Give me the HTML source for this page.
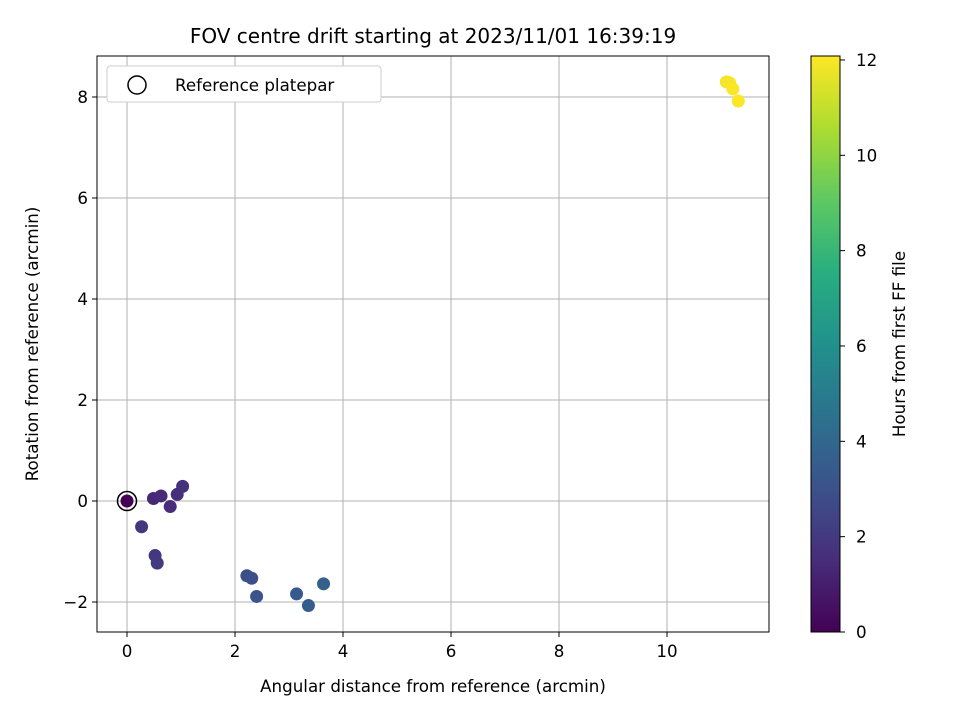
<!DOCTYPE html>
<html><head><meta charset="utf-8"><style>
body{margin:0;background:#fff}
svg text{font-family:"DejaVu Sans","Liberation Sans",sans-serif;fill:#000}
</style></head><body>
<svg id="chart" width="960" height="720" viewBox="0 0 960 720">
<defs>
<linearGradient id="vir" x1="0" y1="1" x2="0" y2="0">
<stop offset="0" stop-color="#440154"/><stop offset="0.125" stop-color="#472d7b"/><stop offset="0.25" stop-color="#3b528b"/><stop offset="0.375" stop-color="#2c728e"/><stop offset="0.5" stop-color="#21918c"/><stop offset="0.625" stop-color="#28ae80"/><stop offset="0.75" stop-color="#5ec962"/><stop offset="0.875" stop-color="#addc30"/><stop offset="1" stop-color="#fde725"/>
</linearGradient>
</defs>
<text x="433" y="43" font-size="20" text-anchor="middle">FOV centre drift starting at 2023/11/01 16:39:19</text>
<g id="grid"></g>
<g id="ticks"></g>
<g id="points"></g>
<rect x="97" y="56" width="672" height="576" fill="none" stroke="#000" stroke-width="1"/>
<text x="433" y="692" font-size="16.7" text-anchor="middle">Angular distance from reference (arcmin)</text>
<text transform="translate(38,344) rotate(-90)" font-size="16.7" text-anchor="middle">Rotation from reference (arcmin)</text>
<g>
<rect x="107" y="66" width="274" height="36" rx="3" fill="#fff" stroke="#ccc"/>
<circle cx="137" cy="85" r="9" fill="none" stroke="#000" stroke-width="1.5"/>
<text x="175" y="91" font-size="16.7">Reference platepar</text>
</g>
<rect x="811" y="56" width="29" height="576" fill="url(#vir)" stroke="#000" stroke-width="1"/>
<g id="cbticks"></g>
<text transform="translate(905,344) rotate(-90)" font-size="16.7" text-anchor="middle">Hours from first FF file</text>
</svg>
<script>
const xVals=[0.49,0.63,0.93,1.03,0.80,0.27,0.52,0.56,2.22,2.31,2.40,3.14,3.36,3.64,11.10,11.16,11.22,11.32,0];
const yVals=[0.05,0.10,0.13,0.29,-0.11,-0.51,-1.08,-1.23,-1.48,-1.53,-1.89,-1.84,-2.07,-1.64,8.30,8.28,8.16,7.92,0];
const hours=[1.3,1.4,1.6,1.7,1.5,1.9,2.0,2.1,2.8,2.9,3.0,3.4,3.5,3.7,11.9,11.95,12.0,12.05,0];
const xTicks=[0,2,4,6,8,10];
const yTicks=[-2,0,2,4,6,8];
const cTicks=[0,2,4,6,8,10,12];
const X=v=>127+54*v, Y=v=>501-50.5*v, C=v=>632-47.67*v;
const stops=["#440154","#472d7b","#3b528b","#2c728e","#21918c","#28ae80","#5ec962","#addc30","#fde725"];
function vir(h){let t=Math.max(0,Math.min(1,h/12.08))*8,i=Math.min(7,Math.floor(t)),f=t-i;
const a=stops[i],b=stops[i+1],p=(s,k)=>parseInt(s.substr(1+2*k,2),16);
return "rgb("+[0,1,2].map(k=>Math.round(p(a,k)+(p(b,k)-p(a,k))*f)).join(",")+")";}
const NS="http://www.w3.org/2000/svg";
function mk(tag,attrs,parent){const e=document.createElementNS(NS,tag);for(const k in attrs)e.setAttribute(k,attrs[k]);document.getElementById(parent).appendChild(e);return e;}
xTicks.forEach(v=>{
const g=mk("line",{x1:X(v),x2:X(v),y1:56,y2:632,stroke:"#b0b0b0","stroke-width":1},"grid");


const t=mk("line",{x1:X(v),x2:X(v),y1:632,y2:637,stroke:"#000"},"ticks");


const l=mk("text",{x:X(v),y:657,"font-size":16.7,"text-anchor":"middle"},"ticks");l.textContent=String(v);


});
yTicks.forEach(v=>{
const g=mk("line",{x1:97,x2:769,y1:Y(v),y2:Y(v),stroke:"#b0b0b0","stroke-width":1},"grid");


const t=mk("line",{x1:92,x2:97,y1:Y(v),y2:Y(v),stroke:"#000"},"ticks");


const l=mk("text",{x:88,y:Y(v)+6,"font-size":16.7,"text-anchor":"end"},"ticks");l.textContent=v<0?"\u2212"+(-v):String(v);


});
cTicks.forEach(v=>{
const t=mk("line",{x1:840,x2:845,y1:C(v),y2:C(v),stroke:"#000"},"cbticks");


const l=mk("text",{x:856,y:C(v)+6,"font-size":16.7},"cbticks");l.textContent=String(v);


});
xVals.forEach((x,i)=>{
const c=mk("circle",{cx:X(x),cy:Y(yVals[i]),r:6.5,fill:vir(hours[i])},"points");


});
const ref=mk("circle",{cx:X(0),cy:Y(0),r:9.5,fill:"none",stroke:"#000","stroke-width":1.5},"points");


</script>
</body></html>
